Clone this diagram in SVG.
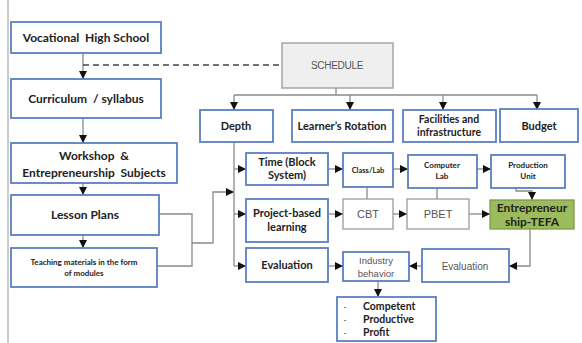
<svg xmlns="http://www.w3.org/2000/svg" width="582" height="343" viewBox="0 0 582 343">
<defs>
<marker id="ah" viewBox="0 0 10 10" refX="10" refY="5" markerWidth="8" markerHeight="8" markerUnits="userSpaceOnUse" orient="auto">
<path d="M0,0 L10,5 L0,10 Z" fill="#111"/>
</marker>
<style>
.b{fill:#fff;stroke:#5b7fc0;stroke-width:1.8}
.g{fill:#fff;stroke:#9a9a9a;stroke-width:1.3}
.t{font-family:Lato,"Open Sans","Liberation Sans",sans-serif;font-weight:bold;fill:#222;text-anchor:middle}
.ts{font-family:Lato,"Open Sans","Liberation Sans",sans-serif;font-weight:bold;fill:#222;text-anchor:start}
.r{font-family:"Liberation Sans",Arial,sans-serif;fill:#555;text-anchor:middle}
.c{fill:none;stroke:#8a8a8a;stroke-width:1.3}
.a{fill:none;stroke:#8a8a8a;stroke-width:1.3;marker-end:url(#ah)}
</style>
</defs>
<rect width="582" height="343" fill="#fff"/>
<line x1="8" y1="0" x2="8" y2="343" stroke="#9a9a9a" stroke-width="1"/>

<g id="connectors">
<path class="a" d="M83,53 V79"/>
<path d="M83,65 H282" fill="none" stroke="#444" stroke-width="1.3" stroke-dasharray="6,4"/>
<path class="a" d="M83,118 V143"/>
<path class="a" d="M83,183 V195"/>
<path class="a" d="M83,235 V248"/>
<path class="c" d="M158,214 H192 V266 H157"/>
<path class="a" d="M192,243 H213 V192 H234"/>
<path class="c" d="M336,88 V95 M234,95 H537"/>
<path class="a" d="M234,95 V110"/>
<path class="a" d="M350,95 V110"/>
<path class="a" d="M443,95 V110"/>
<path class="a" d="M537,95 V110"/>
<path class="c" d="M234,142 V266"/>
<path class="a" d="M234,169 H246"/>
<path class="a" d="M234,214 H246"/>
<path class="a" d="M234,266 H246"/>
<path class="a" d="M328,169 H343"/>
<path class="a" d="M393,169 H408"/>
<path class="a" d="M477,169 H491"/>
<path class="a" d="M328,214 H343"/>
<path class="a" d="M393,214 H407"/>
<path class="a" d="M469,214 H490"/>
<path class="c" d="M367,187 V199"/>
<path class="c" d="M437,188 V199"/>
<path class="a" d="M516,188 V191 H532 V200"/>
<path class="a" d="M530,229 V266 H509"/>
<path class="a" d="M328,266 H343"/>
<path class="a" d="M422,266 H409"/>
<path class="a" d="M378,281 V297"/>
</g>

<g id="vhs"><rect class="b" x="11" y="22" width="150" height="31"/><text class="t" x="86" y="42" font-size="12" xml:space="preserve">Vocational  High School</text></g>
<g id="curriculum"><rect class="b" x="11" y="79" width="150" height="39"/><text class="t" x="86" y="103" font-size="12" xml:space="preserve">Curriculum  / syllabus</text></g>
<g id="workshop"><rect class="b" x="11" y="143" width="166" height="40"/><text class="t" x="94" y="160" font-size="12" xml:space="preserve">Workshop  &amp;</text><text class="t" x="94" y="177" font-size="12" xml:space="preserve">Entrepreneurship  Subjects</text></g>
<g id="lesson"><rect class="b" x="11" y="195" width="148" height="40"/><text class="t" x="85" y="219" font-size="12">Lesson Plans</text></g>
<g id="teaching"><rect class="b" x="11" y="248" width="146" height="39"/><text class="t" x="84" y="265" font-size="8">Teaching materials in the form</text><text class="t" x="84" y="276" font-size="8">of modules</text></g>

<g id="schedule"><rect x="282" y="43" width="111" height="45" fill="#efefef" stroke="#999" stroke-width="1.3"/><text class="r" x="337" y="69" font-size="10" fill="#444" letter-spacing="-0.3">SCHEDULE</text></g>
<g id="depth"><rect class="b" x="200" y="110" width="73" height="32"/><text class="t" x="236" y="130" font-size="11">Depth</text></g>
<g id="rotation"><rect class="b" x="292" y="110" width="101" height="32"/><text class="t" x="342" y="130" font-size="11">Learner’s Rotation</text></g>
<g id="facilities"><rect class="b" x="403" y="110" width="93" height="32"/><text class="t" x="449" y="123" font-size="10.5">Facilities and</text><text class="t" x="449" y="136" font-size="10.5">infrastructure</text></g>
<g id="budget"><rect class="b" x="500" y="109" width="78" height="33"/><text class="t" x="539" y="130" font-size="11">Budget</text></g>

<g id="time"><rect class="b" x="246" y="153" width="82" height="32"/><text class="t" x="287" y="166" font-size="11">Time (Block</text><text class="t" x="287" y="179" font-size="11">System)</text></g>
<g id="project"><rect class="b" x="246" y="199" width="82" height="43"/><text class="t" x="287" y="217" font-size="11">Project-based</text><text class="t" x="287" y="231" font-size="11">learning</text></g>
<g id="evaluation1"><rect class="b" x="246" y="248" width="82" height="34"/><text class="t" x="287" y="269" font-size="11">Evaluation</text></g>

<g id="classlab"><rect class="b" x="343" y="153" width="50" height="34"/><text class="t" x="368" y="173" font-size="7.5">Class/Lab</text></g>
<g id="cbt"><rect class="g" x="343" y="199" width="50" height="30"/><text class="r" x="368" y="218" font-size="11">CBT</text></g>
<g id="computerlab"><rect class="b" x="408" y="155" width="69" height="33"/><text class="t" x="442" y="168" font-size="8">Computer</text><text class="t" x="442" y="179" font-size="8">Lab</text></g>
<g id="pbet"><rect class="g" x="407" y="199" width="62" height="30"/><text class="r" x="438" y="218" font-size="11">PBET</text></g>
<g id="production"><rect class="b" x="491" y="155" width="74" height="33"/><text class="t" x="528" y="168" font-size="8">Production</text><text class="t" x="528" y="179" font-size="8">Unit</text></g>
<g id="tefa"><rect x="490" y="200" width="84" height="29" fill="#9cbb5c" stroke="#7f9a4a" stroke-width="1.3"/><text class="t" x="532" y="212" font-size="12" fill="#1a2a0a">Entrepreneur</text><text class="t" x="532" y="226" font-size="12" fill="#1a2a0a">ship-TEFA</text></g>

<g id="industry"><rect class="b" x="343" y="252" width="66" height="29"/><text class="r" x="376" y="264" font-size="9.5" fill="#888">Industry</text><text class="r" x="376" y="277" font-size="9.5" fill="#888">behavior</text></g>
<g id="evaluation2"><rect class="b" x="422" y="249" width="87" height="33"/><text class="r" x="465" y="270" font-size="10" fill="#888">Evaluation</text></g>
<g id="outcomes"><rect class="b" x="337" y="297" width="99" height="44"/>
<text class="r" x="345" y="310" font-size="9" fill="#888">-</text><text class="r" x="345" y="323" font-size="9" fill="#888">-</text><text class="r" x="345" y="336" font-size="9" fill="#888">-</text>
<text class="ts" x="363" y="310" font-size="10.5">Competent</text><text class="ts" x="363" y="323" font-size="10.5">Productive</text><text class="ts" x="363" y="336" font-size="10.5">Profit</text></g>
</svg>
